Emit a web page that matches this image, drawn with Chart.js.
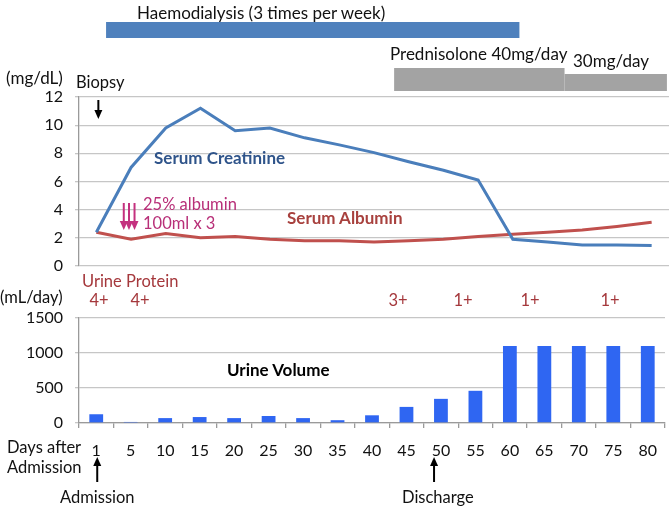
<!DOCTYPE html>
<html>
<head>
<meta charset="utf-8">
<script src="https://cdn.jsdelivr.net/npm/chart.js@4.4.0/dist/chart.umd.min.js"></script>
<style>
body { margin: 0; background: #fff; }
#wrap { position: relative; width: 671px; height: 509px; overflow: hidden; font-family: Lato, sans-serif; color: #111; }
canvas { position: absolute; left: 0; }
.t { position: absolute; white-space: nowrap; font-size: 16.5px; line-height: 1; }
.l { font-size: 17px; }
.b { font-weight: bold; font-size: 17px; }
.c { transform: translateX(-50%); }
.red { color: #a5383c; }
.mag { color: #b82f78; font-size: 16.5px; }
</style>
</head>
<body>
<div id="wrap">
    <canvas id="lineChart" width="671" height="280" style="top:0"></canvas>
    <canvas id="barChart" width="671" height="209" style="top:300px"></canvas>

    <div class="t l" style="left:137px;top:4px">Haemodialysis (3 times per week)</div>
    <div class="t l" style="left:390px;top:45px">Prednisolone 40mg/day</div>
    <div class="t l" style="left:573px;top:52px">30mg/day</div>
    <div class="t l" style="left:6px;top:69px">(mg/dL)</div>
    <div class="t" style="left:76px;top:74px">Biopsy</div>
    <div class="t b" style="left:154px;top:149px;color:#2f548a">Serum Creatinine</div>
    <div class="t mag" style="left:143px;top:196px">25% albumin</div>
    <div class="t mag" style="left:143px;top:215px">100ml x 3</div>
    <div class="t b" style="left:287px;top:209px;color:#a8413e">Serum Albumin</div>
    <div class="t red" style="left:82px;top:273px">Urine Protein</div>
    <div class="t" style="left:0px;top:289px">(mL/day)</div>
    <div class="t red c" style="left:99px;top:292px">4+</div>
    <div class="t red c" style="left:140px;top:292px">4+</div>
    <div class="t red c" style="left:398px;top:292px">3+</div>
    <div class="t red c" style="left:463px;top:292px">1+</div>
    <div class="t red c" style="left:530px;top:292px">1+</div>
    <div class="t red c" style="left:610px;top:292px">1+</div>
    <div class="t b" style="left:227px;top:361px;color:#000">Urine Volume</div>
    <div class="t" style="left:7px;top:439px">Days after</div>
    <div class="t" style="left:7px;top:459px">Admission</div>
    <div class="t" style="left:60px;top:489px">Admission</div>
    <div class="t" style="left:402px;top:489px">Discharge</div>
</div>
<script>
// jours apres admission
var days = ['1', '5', '10', '15', '20', '25', '30', '35', '40', '45', '50', '55', '60', '65', '70', '75', '80'];
// mg/dL
var creatinine = [2.4, 7.0, 9.8, 11.2, 9.6, 9.8, 9.1, 8.6, 8.05, 7.4, 6.8, 6.1, 1.9, 1.7, 1.5, 1.5, 1.45];
var albumin = [2.4, 1.9, 2.3, 2.0, 2.1, 1.9, 1.8, 1.8, 1.7, 1.8, 1.9, 2.1, 2.25, 2.4, 2.55, 2.8, 3.1];
// mL/day
var urineVolume = [125, 15, 70, 85, 70, 100, 70, 40, 110, 230, 345, 460, 1100, 1100, 1100, 1100, 1100];
var mgTicks = [0, 2, 4, 6, 8, 10, 12];
var mlTicks = [0, 500, 1000, 1500];

// traitements (en index de jours, fractionnaire)
var haemodialysis = [0.28, 12.19];
var prednisolone40 = [8.58, 13.49];
var prednisolone30 = [13.49, 16.44];
var albuminInfusions = [0.79, 0.94, 1.1];
var biopsyIdx = 0;
var admissionIdx = 0;
var dischargeIdx = 9.8;

Chart.defaults.font.family = 'Lato, sans-serif';
Chart.defaults.font.size = 16;
Chart.defaults.color = '#111';

function drawArrow(ctx, x, y1, y2, color) {
    // y1 = queue, y2 = pointe
    var dir = y2 > y1 ? 1 : -1;
    ctx.save();
    ctx.strokeStyle = color;
    ctx.fillStyle = color;
    ctx.lineWidth = 2;
    ctx.beginPath();
    ctx.moveTo(x, y1);
    ctx.lineTo(x, y2 - dir * 6);
    ctx.stroke();
    ctx.beginPath();
    ctx.moveTo(x - 4, y2 - dir * 9);
    ctx.lineTo(x + 4, y2 - dir * 9);
    ctx.lineTo(x, y2);
    ctx.closePath();
    ctx.fill();
    ctx.restore();
}

var linePlugin = {
    id: 'lineExtras',
    afterDraw: function (chart) {
        var ctx = chart.ctx;
        var x = chart.scales.x;
        function px(v) { return x.getPixelForValue(v); }
        ctx.save();
        ctx.fillStyle = '#4f81bd';
        ctx.fillRect(px(haemodialysis[0]), 22, px(haemodialysis[1]) - px(haemodialysis[0]), 16);
        ctx.fillStyle = '#a3a3a3';
        ctx.fillRect(px(prednisolone40[0]), 68, px(prednisolone40[1]) - px(prednisolone40[0]), 23);
        ctx.fillRect(px(prednisolone30[0]), 74, px(prednisolone30[1]) - px(prednisolone30[0]), 17);
        ctx.restore();
        drawArrow(ctx, px(biopsyIdx) + 2, 100, 119, '#000');
        albuminInfusions.forEach(function (v) {
            drawArrow(ctx, px(v), 203, 230, '#c4317f');
        });
    }
};

var barPlugin = {
    id: 'barExtras',
    afterDraw: function (chart) {
        var ctx = chart.ctx;
        var x = chart.scales.x;
        drawArrow(ctx, x.getPixelForValue(admissionIdx) + 1, 182, 157, '#000');
        drawArrow(ctx, x.getPixelForValue(dischargeIdx), 182, 157, '#000');
    }
};

function plainLabel(value) {
    return String(value);
}

// largeur fixe de l'axe, sans la marge des etiquettes
function fixYAxis(s) {
    s.width = 79;
    s.paddingTop = 0;
    s.paddingBottom = 0;
}

var ctx1 = document.getElementById('lineChart').getContext('2d');
var myChart1 = new Chart(ctx1, {
    type: 'line',
    data: {
        labels: days,
        datasets: [
            {
                label: 'Serum Creatinine',
                data: creatinine,
                borderColor: '#4a7ebb',
                borderWidth: 3,
                pointRadius: 0,
                tension: 0
            },
            {
                label: 'Serum Albumin',
                data: albumin,
                borderColor: '#c0504d',
                borderWidth: 3,
                pointRadius: 0,
                tension: 0
            }
        ]
    },
    options: {
        responsive: false,
        animation: false,
        devicePixelRatio: 1,
        layout: { padding: { top: 97, bottom: 14, left: 0, right: 2 } },
        plugins: { legend: { display: false }, tooltip: { enabled: false } },
        scales: {
            x: { display: false, offset: true },
            y: {
                min: 0,
                max: 12,
                afterBuildTicks: function (s) { s.ticks = mgTicks.map(function (v) { return { value: v }; }); },
                afterFit: fixYAxis,
                ticks: { padding: 12, color: '#111', font: { size: 16 }, callback: plainLabel },
                grid: { color: '#c6c6c6', lineWidth: 1.3, tickLength: 4 },
                border: { display: true, color: '#9a9a9a', width: 1.3 }
            }
        }
    },
    plugins: [linePlugin]
});

var ctx2 = document.getElementById('barChart').getContext('2d');
var myChart2 = new Chart(ctx2, {
    type: 'bar',
    data: {
        labels: days,
        datasets: [
            {
                label: 'Urine Volume',
                data: urineVolume,
                backgroundColor: '#2f66f2',
                barPercentage: 0.4,
                categoryPercentage: 1
            }
        ]
    },
    options: {
        responsive: false,
        animation: false,
        devicePixelRatio: 1,
        layout: { padding: { top: 18, bottom: 0, left: 0, right: 6 } },
        plugins: { legend: { display: false }, tooltip: { enabled: false } },
        scales: {
            x: {
                afterFit: function (s) { s.height = 86; },
                ticks: { padding: 13, color: '#111', font: { size: 16 }, maxRotation: 0, autoSkip: false },
                grid: { drawOnChartArea: false, color: '#9a9a9a', tickLength: 5, lineWidth: 1.3 },
                border: { display: true, color: '#9a9a9a', width: 1.3 }
            },
            y: {
                min: 0,
                max: 1500,
                afterBuildTicks: function (s) { s.ticks = mlTicks.map(function (v) { return { value: v }; }); },
                afterFit: fixYAxis,
                ticks: { padding: 12, color: '#111', font: { size: 16 }, callback: plainLabel },
                grid: { color: '#c6c6c6', lineWidth: 1.3, tickLength: 4 },
                border: { display: true, color: '#9a9a9a', width: 1.3 }
            }
        }
    },
    plugins: [barPlugin]
});
</script>
</body>
</html>
